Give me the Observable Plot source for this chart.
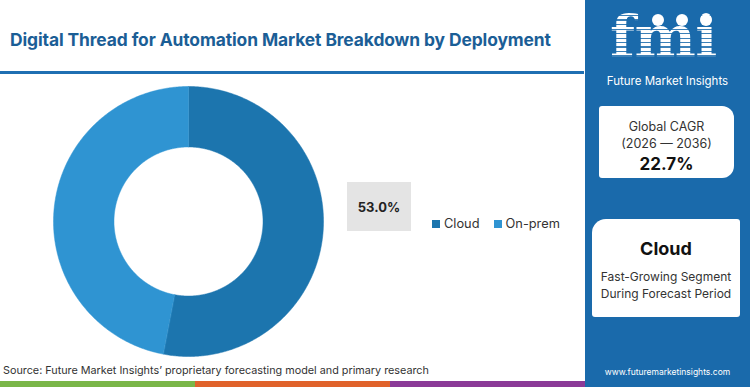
<!DOCTYPE html>
<html><head><meta charset="utf-8">
<script src="https://cdn.jsdelivr.net/npm/d3@7"></script>
<script src="https://cdn.jsdelivr.net/npm/@observablehq/plot@0.6"></script>
<style>
html,body{margin:0;padding:0;background:#fff;}
#page{position:relative;width:750px;height:387px;overflow:hidden;font-family:Inter,"Open Sans",sans-serif;background:#fff;}
.abs{position:absolute;}
#title{left:10px;top:29px;font-size:17.4px;font-weight:700;color:#1b5e96;white-space:nowrap;letter-spacing:-0.1px;}
#rule{left:0;top:71px;width:584px;height:3px;background:#1f6fb2;}
#panel{left:585px;top:0;width:165px;height:387px;background:#1a6aab;}
.box{background:#fff;text-align:center;color:#333;}
#chart{left:38px;top:71px;}
#label{left:347px;top:182px;width:64px;height:49px;background:#e4e4e4;display:flex;align-items:center;justify-content:center;font-weight:700;font-size:13px;color:#222;}
#legend{left:432px;top:216px;font-size:12.8px;color:#333;display:flex;gap:0;}
.li{display:flex;align-items:center;margin-right:14px;}
.sw{width:8px;height:8px;margin-right:4px;}
#source{left:3px;top:364px;font-size:10.8px;color:#333;white-space:nowrap;}
#bar{left:0;top:381px;width:585px;height:6px;display:flex;}
#logo{left:610px;top:3px;font-family:"DejaVu Serif",serif;font-weight:700;font-size:58px;line-height:68px;
background:repeating-linear-gradient(to bottom,#fff 0 3px,rgba(255,255,255,0.15) 3px 4.5px);-webkit-background-clip:text;background-clip:text;color:transparent;letter-spacing:-0.5px;}
.glob{width:12px;height:12px;border-radius:50%;background:#fff;}
#fmitext{left:585px;width:165px;top:74px;text-align:center;font-size:11.5px;line-height:14px;color:#fff;}
#url{left:585px;width:165px;top:367px;text-align:center;font-size:8.5px;color:#fff;}
</style></head>
<body>
<div id="page">
  <div id="panel" class="abs"></div>
  <div id="title" class="abs"></div>
  <div id="rule" class="abs"></div>
  <div id="chart" class="abs"></div>
  <div id="label" class="abs"></div>
  <div id="legend" class="abs"></div>
  <div id="source" class="abs"></div>
  <div id="bar" class="abs"></div>
  <div id="logo" class="abs">fmi</div>
  <div class="abs glob" style="left:652px;top:14px"></div>
  <div class="abs glob" style="left:676px;top:14px"></div>
  <div class="abs glob" style="left:700px;top:14px"></div>
  <div id="fmitext" class="abs">Future Market Insights</div>
  <div class="abs box" style="left:599px;top:106px;width:135px;height:72px;border-radius:3px 12px 12px 3px;">
    <div style="font-size:12.5px;margin-top:12px;line-height:17px" id="kpi1"></div>
    <div style="font-size:12.5px;line-height:17px" id="kpi2"></div>
    <div style="font-size:17px;font-weight:700;color:#111;line-height:22px;margin-top:1px" id="kpi3"></div>
  </div>
  <div class="abs box" style="left:592px;top:219px;width:148px;height:98px;border-radius:14px 3px 3px 3px;">
    <div style="font-size:18px;font-weight:700;color:#111;margin-top:19px;line-height:22px" id="seg"></div>
    <div style="font-size:12px;margin-top:8px;line-height:17px" id="seg2"></div>
    <div style="font-size:12px;line-height:17px" id="seg3"></div>
  </div>
  <div id="url" class="abs"></div>
</div>
<script>
const titleText = "Digital Thread for Automation Market Breakdown by Deployment";
const categories = ["Cloud", "On-prem"];
const shares = [53.0, 47.0];
const sliceColors = ["#1c75ae", "#2f94d2"];
const labelShare = 53.0;
const cagrLines = ["Global CAGR", "(2026 \u2014 2036)", "22.7%"];
const segmentLines = ["Cloud", "Fast-Growing Segment", "During Forecast Period"];
const sourceText = "Source: Future Market Insights\u2019 proprietary forecasting model and primary research";
const urlText = "www.futuremarketinsights.com";
const stripeColors = ["#7ab648", "#e0622a", "#8b3a97"];

document.getElementById("title").textContent = titleText;
document.getElementById("source").textContent = sourceText;
document.getElementById("url").textContent = urlText;
document.getElementById("kpi1").textContent = cagrLines[0];
document.getElementById("kpi2").textContent = cagrLines[1];
document.getElementById("kpi3").textContent = cagrLines[2];
document.getElementById("seg").textContent = segmentLines[0];
document.getElementById("seg2").textContent = segmentLines[1];
document.getElementById("seg3").textContent = segmentLines[2];
document.getElementById("label").textContent = labelShare.toFixed(1) + "%";

const bar = document.getElementById("bar");
stripeColors.forEach(c => { const d = document.createElement("div"); d.style.flex = "1"; d.style.background = c; bar.appendChild(d); });

const legend = document.getElementById("legend");
categories.forEach((c, i) => {
  const li = document.createElement("div"); li.className = "li";
  const sw = document.createElement("div"); sw.className = "sw"; sw.style.background = sliceColors[i];
  const t = document.createElement("span"); t.textContent = c;
  li.appendChild(sw); li.appendChild(t); legend.appendChild(li);
});

// donut geometry in unit radius space
const outerR = 1, innerR = 0.552;
const total = d3.sum(shares);
const pts = [];
let acc = 0;
categories.forEach((c, i) => {
  const a0 = acc / total * 2 * Math.PI;
  acc += shares[i];
  const a1 = acc / total * 2 * Math.PI;
  const n = Math.max(2, Math.ceil((a1 - a0) / 0.01));
  for (let k = 0; k <= n; k++) { const a = a0 + (a1 - a0) * k / n; pts.push({cat: c, x: outerR * Math.sin(a), y: outerR * Math.cos(a)}); }
  for (let k = n; k >= 0; k--) { const a = a0 + (a1 - a0) * k / n; pts.push({cat: c, x: innerR * Math.sin(a), y: innerR * Math.cos(a)}); }
});

const ext = 150 / 135;
const plot = Plot.plot({
  width: 300, height: 300, margin: 0,
  x: {domain: [-ext, ext], axis: null},
  y: {domain: [-ext, ext], axis: null},
  color: {domain: categories, range: sliceColors},
  marks: [
    Plot.line(pts, {x: "x", y: "y", z: "cat", fill: "cat", stroke: "cat", strokeWidth: 0.5, curve: "linear-closed"})
  ]
});
document.getElementById("chart").appendChild(plot);
</script>
</body></html>
